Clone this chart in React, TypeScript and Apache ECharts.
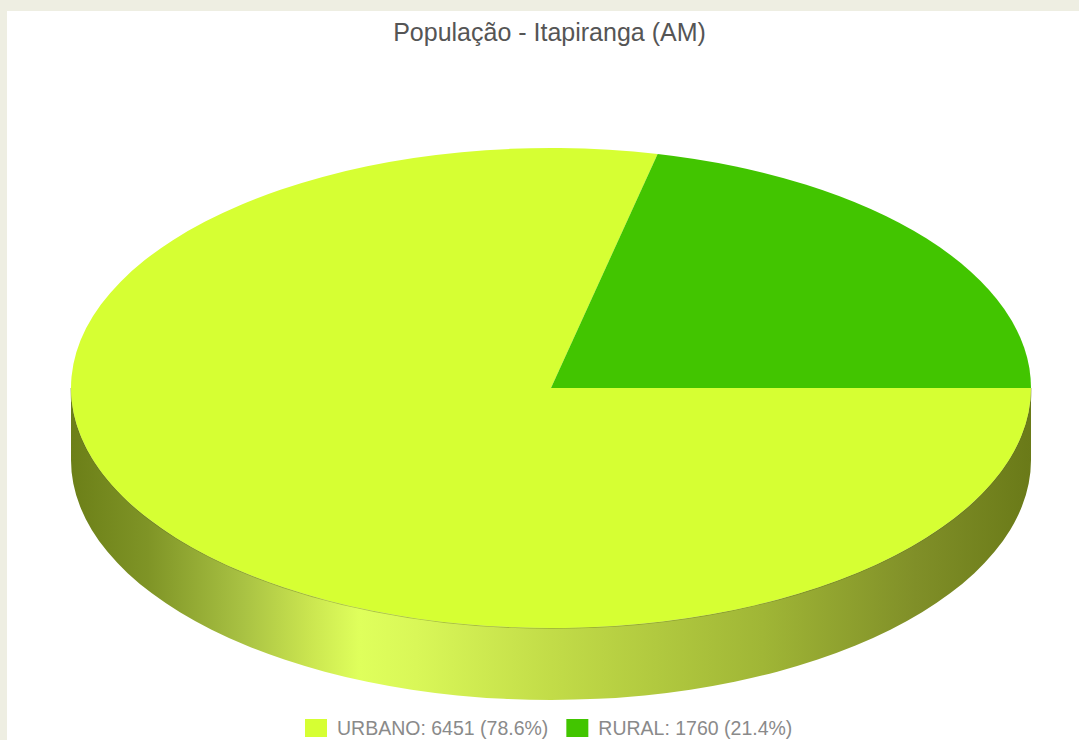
import React, { useEffect, useRef } from "react";
import * as echarts from "echarts";

const TITLE = "População - Itapiranga (AM)";
const names = ["URBANO", "RURAL"];
const values = [6451, 1760];
const shares = ["78.6%", "21.4%"];
const colors = ["#D6FF33", "#42C500"];

const W = 1079, H = 740;
const CX = 551, CY = 388, RX = 480, RY = 240, DEPTH = 72;

const total = values.reduce((a, b) => a + b, 0);
const labels = names.map((n, i) => `${n}: ${values[i]} (${shares[i]})`);

function renderWall() {
  const x0 = CX - RX, x1 = CX + RX;
  const wall = `M${x0} ${CY}A${RX} ${RY} 0 0 0 ${x1} ${CY}L${x1} ${CY + DEPTH}A${RX} ${RY} 0 0 1 ${x0} ${CY + DEPTH}Z`;
  const rim = `M${x0} ${CY}A${RX} ${RY} 0 0 0 ${x1} ${CY}`;
  return {
    type: "group",
    children: [
      {
        type: "path",
        shape: { pathData: wall },
        style: {
          fill: new echarts.graphic.LinearGradient(0, 0, 1, 0, [
            { offset: 0, color: "#6C7F18" },
            { offset: 0.08, color: "#7F9426" },
            { offset: 0.18, color: "#A9C243" },
            { offset: 0.25, color: "#CBE650" },
            { offset: 0.3, color: "#DFFF5C" },
            { offset: 0.36, color: "#D9F758" },
            { offset: 0.5, color: "#C2DC48" },
            { offset: 0.72, color: "#A0B636" },
            { offset: 0.88, color: "#808F28" },
            { offset: 1, color: "#6A7A18" },
          ]),
        },
      },
      {
        type: "path",
        shape: { pathData: rim },
        style: { fill: "none", stroke: "rgba(96,110,24,0.4)", lineWidth: 1.5 },
      },
    ],
  };
}

function sliceSeries(i: number) {
  return {
    type: "custom",
    name: labels[i],
    coordinateSystem: "none",
    silent: true,
    z: 3,
    itemStyle: { color: colors[i] },
    data: [[values[i]]],
    renderItem: (_p: any, api: any) => {
      const sweep = (api.value(0) / total) * Math.PI * 2;
      const startAngle = i === 0 ? 0 : -sweep;
      const endAngle = i === 0 ? sweep : 0;
      return {
        type: "sector",
        x: CX,
        y: CY,
        scaleY: RY / RX,
        shape: { cx: 0, cy: 0, r: RX, r0: 0, startAngle, endAngle, clockwise: true },
        style: { fill: colors[i] },
      };
    },
  };
}

export default function App() {
  const ref = useRef<HTMLDivElement>(null);
  useEffect(() => {
    const chart = echarts.init(ref.current!, undefined, { renderer: "svg" });
    chart.setOption({
      animation: false,
      title: {
        text: TITLE,
        left: 544.5,
        textAlign: "center",
        top: 14,
        textStyle: {
          fontFamily: "Liberation Sans",
          fontSize: 25,
          fontWeight: "normal",
          color: "#555555",
        },
      },
      legend: {
        data: labels,
        icon: "rect",
        left: 305,
        top: 718,
        itemWidth: 22,
        itemHeight: 18,
        itemGap: 18,
        padding: 0,
        selectedMode: false,
        textStyle: {
          fontFamily: "Liberation Sans",
          fontSize: 19.5,
          color: "#8A8A8A",
          padding: [0, 0, 0, 5],
        },
      },
      series: [
        {
          type: "custom",
          coordinateSystem: "none",
          silent: true,
          z: 1,
          data: [[total]],
          renderItem: renderWall,
        },
        sliceSeries(0),
        sliceSeries(1),
      ],
    });
    return () => chart.dispose();
  }, []);
  return (
    <div style={{ position: "fixed", left: 0, top: 0, width: W, height: H, overflow: "hidden", background: "#EEEEE2" }}>
      <div style={{ position: "absolute", left: 7, top: 11, width: W - 7, height: H - 11, background: "#FFFFFF" }} />
      <div ref={ref} style={{ position: "absolute", left: 0, top: 0, width: W, height: H }} />
    </div>
  );
}
